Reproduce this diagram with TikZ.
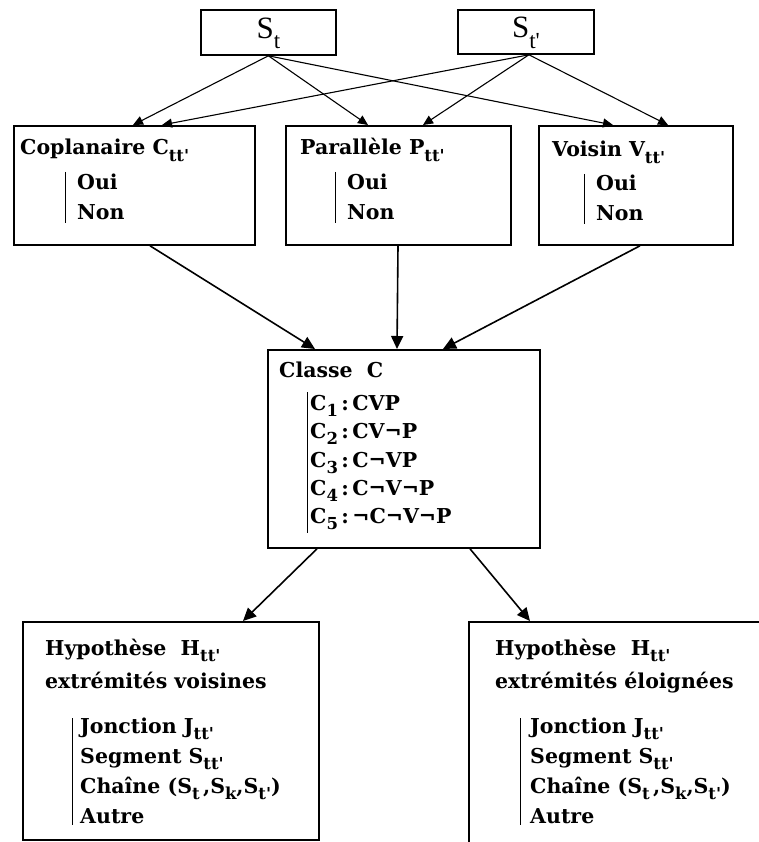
\documentclass[tikz,border=0pt]{standalone}
\usepackage{fontspec}
\setmainfont{DejaVu Serif}
\newfontfamily\figfont{Liberation Serif}
\usetikzlibrary{arrows.meta}
% lowered subscript in a smaller size
\newcommand\lsub[2][16.5]{\raisebox{-0.34em}{\fontsize{#1}{#1}\selectfont #2}}
\newcommand\tprime{\textquotesingle}
\begin{document}
\begin{tikzpicture}[x=1pt,y=-1pt,
  box/.style={draw,line width=1.8pt,inner sep=0pt,anchor=north west},
  txt/.style={anchor=base west,inner sep=0pt,font=\fontsize{20.5}{22}\selectfont\bfseries},
  seg/.style={line width=1pt},
  conn/.style={line width=1.1pt,-{Triangle[length=10pt,width=9pt]}},
  bigconn/.style={line width=1.6pt,-{Triangle[length=13pt,width=12pt]}}]
\clip (0,0) rectangle (759,842);

% top boxes
\node[box,minimum width=135pt,minimum height=45pt] (st) at (200,9) {};
\node[box,minimum width=136pt,minimum height=44pt] (stp) at (457,9) {};
\node[font=\fontsize{31}{31}\selectfont\figfont] (stL) at ([yshift=-1pt]st.center) {S\lsub[23]{t}};
\node[font=\fontsize{31}{31}\selectfont\figfont] (stpL) at ([yshift=-1pt]stp.center) {S\lsub[23]{t\tprime}};

% criteria boxes
\node[box,minimum width=241pt,minimum height=119pt] (cop) at (13,125) {};
\node[box,minimum width=225pt,minimum height=119pt] (par) at (285,125) {};
\node[box,minimum width=194pt,minimum height=119pt] (voi) at (538,125) {};

\node[txt] (copT) at (20,155) {Coplanaire C\lsub{tt\tprime}};
\node[txt] (copA) at (77,190) {Oui};
\node[txt] (copB) at (77,219) {Non};
\draw[seg] (65,172) -- (65,223);

\node[txt] (parT) at (300,155) {Parallèle P\lsub{tt\tprime}};
\node[txt] (parA) at (347,190) {Oui};
\node[txt] (parB) at (347,219) {Non};
\draw[seg] (335,172) -- (335,223);

\node[txt] (voiT) at (552,157) {Voisin V\lsub{tt\tprime}};
\node[txt] (voiA) at (596,191) {Oui};
\node[txt] (voiB) at (596,220) {Non};
\draw[seg] (584,174) -- (584,224);

% class box
\node[box,minimum width=272pt,minimum height=198pt] (cls) at (267,349) {};
\node[txt] (clsT) at (279,377) {Classe\ \ C};
\node[txt] (c1) at (310,410) {C\lsub{1}\,:\,CVP};
\node[txt] (c2) at (310,438) {C\lsub{2}\,:\,CV¬P};
\node[txt] (c3) at (310,467) {C\lsub{3}\,:\,C¬VP};
\node[txt] (c4) at (310,495) {C\lsub{4}\,:\,C¬V¬P};
\node[txt] (c5) at (310,523) {C\lsub{5}\,:\,¬C¬V¬P};
\draw[seg] (307,392) -- (307,533);

% hypothesis boxes
\node[box,minimum width=296pt,minimum height=218pt] (hl) at (22,621) {};
\node[box,minimum width=340pt,minimum height=260pt] (hr) at (468,621) {};

\node[txt] (hlT) at (45,655) {Hypothèse\ \ H\lsub{tt\tprime}};
\node[txt] (hlS) at (45,688) {extrémités voisines};
\node[txt] (hl1) at (80,733) {Jonction J\lsub{tt\tprime}};
\node[txt] (hl2) at (80,763) {Segment S\lsub{tt\tprime}};
\node[txt] (hl3) at (80,793) {Chaîne (S\lsub{t}\,,S\lsub{k},S\lsub{t\tprime})};
\node[txt] (hl4) at (80,823) {Autre};
\draw[seg] (72,718) -- (72,825);

\node[txt] (hrT) at (495,655) {Hypothèse\ \ H\lsub{tt\tprime}};
\node[txt] (hrS) at (495,688) {extrémités éloignées};
\node[txt] (hr1) at (530,733) {Jonction J\lsub{tt\tprime}};
\node[txt] (hr2) at (530,763) {Segment S\lsub{tt\tprime}};
\node[txt] (hr3) at (530,793) {Chaîne (S\lsub{t}\,,S\lsub{k},S\lsub{t\tprime})};
\node[txt] (hr4) at (530,823) {Autre};
\draw[seg] (520,718) -- (520,825);

% connectors from the two segments
\draw[conn] (st.south) -- ([xshift=120pt]cop.north west);
\draw[conn] (st.south) -- ([xshift=83pt]par.north west);
\draw[conn] (st.south) -- ([xshift=75pt]voi.north west);
\draw[conn] ([xshift=3pt]stp.south) -- ([xshift=149pt]cop.north west);
\draw[conn] ([xshift=3pt]stp.south) -- ([xshift=138pt]par.north west);
\draw[conn] ([xshift=3pt]stp.south) -- ([xshift=130pt]voi.north west);

% criteria to class
\draw[bigconn] ([xshift=137pt]cop.south west) -- ([xshift=48pt]cls.north west);
\draw[bigconn] ([xshift=113pt]par.south west) -- ([xshift=130pt]cls.north west);
\draw[bigconn] ([xshift=102pt]voi.south west) -- ([xshift=176pt]cls.north west);

% class to hypotheses
\draw[bigconn] ([xshift=50pt]cls.south west) -- ([xshift=221pt]hl.north west);
\draw[bigconn] ([xshift=203pt]cls.south west) -- ([xshift=62pt]hr.north west);
\end{tikzpicture}
\end{document}
